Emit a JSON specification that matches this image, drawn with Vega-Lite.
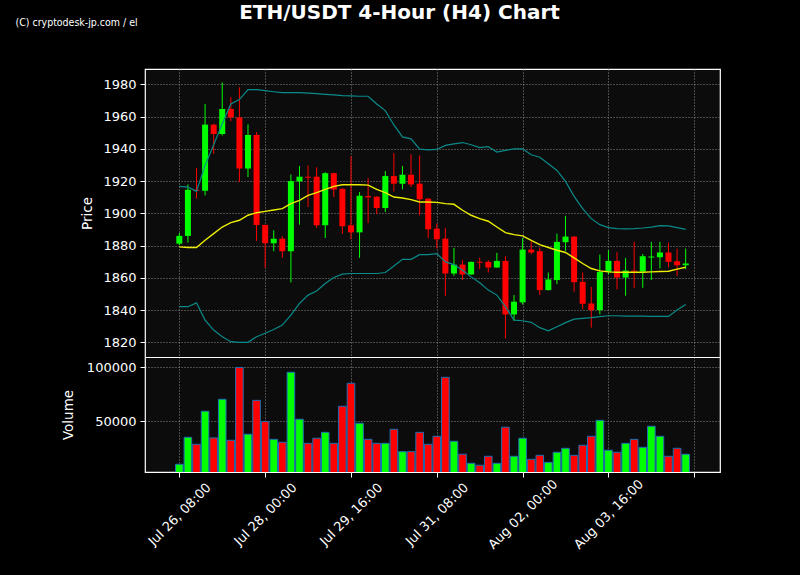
{
  "$schema": "https://vega.github.io/schema/vega-lite/v6.json",
  "width": 575,
  "height": 403,
  "autosize": {"type": "none"},
  "padding": {"left": 145, "top": 69, "right": 80, "bottom": 103},
  "background": "#000000",
  "title": {
    "text": "ETH/USDT 4-Hour (H4) Chart",
    "color": "#ffffff",
    "font": "DejaVu Sans",
    "fontSize": 20,
    "fontWeight": "bold",
    "anchor": "middle",
    "frame": "group",
    "dx": -33,
    "baseline": "alphabetic",
    "offset": -22
  },
  "config": {
    "view": {"fill": "#0c0c0c", "stroke": "#ffffff", "strokeWidth": 1.2},
    "axis": {
      "labelColor": "#ffffff", "labelFont": "DejaVu Sans", "labelFontSize": 13,
      "tickColor": "#ffffff", "tickSize": 5, "tickWidth": 1, "domain": false,
      "gridColor": "#8a8a8a", "gridDash": [1, 2], "gridWidth": 1,
      "titleColor": "#ffffff", "titleFont": "DejaVu Sans", "titleFontSize": 13.5, "titleFontWeight": "normal",
      "labelOverlap": false, "labelFlush": false, "labelBound": false
    }
  },
  "datasets": {
    "ohlc": [
      {"t":"2023-07-26T08:00:00Z","o":1881.2,"h":1887.8,"l":1880.2,"c":1886.0,"v":10200,"u":1916.7,"m":1879.2,"lo":1842.1,"dir":"up"},
      {"t":"2023-07-26T12:00:00Z","o":1886.0,"h":1917.9,"l":1881.8,"c":1914.6,"v":35200,"u":1916.3,"m":1878.8,"lo":1842.1,"dir":"up"},
      {"t":"2023-07-26T16:00:00Z","o":1914.6,"h":1928.2,"l":1909.1,"c":1914.0,"v":28700,"u":1913.6,"m":1878.8,"lo":1844.5,"dir":"down"},
      {"t":"2023-07-26T20:00:00Z","o":1914.0,"h":1967.8,"l":1911.1,"c":1955.0,"v":59300,"u":1929.7,"m":1883.3,"lo":1833.8,"dir":"up"},
      {"t":"2023-07-27T00:00:00Z","o":1955.0,"h":1955.5,"l":1936.9,"c":1949.2,"v":34600,"u":1942.5,"m":1887.4,"lo":1827.6,"dir":"down"},
      {"t":"2023-07-27T04:00:00Z","o":1949.2,"h":1981.2,"l":1948.2,"c":1964.7,"v":70400,"u":1955.5,"m":1891.5,"lo":1823.5,"dir":"up"},
      {"t":"2023-07-27T08:00:00Z","o":1964.7,"h":1971.9,"l":1957.1,"c":1959.5,"v":32400,"u":1967.8,"m":1894.2,"lo":1820.4,"dir":"down"},
      {"t":"2023-07-27T12:00:00Z","o":1959.5,"h":1978.1,"l":1919.4,"c":1927.8,"v":99800,"u":1970.5,"m":1895.7,"lo":1820.0,"dir":"down"},
      {"t":"2023-07-27T16:00:00Z","o":1927.8,"h":1955.2,"l":1922.5,"c":1948.6,"v":38000,"u":1976.7,"m":1898.8,"lo":1820.0,"dir":"up"},
      {"t":"2023-07-27T20:00:00Z","o":1948.6,"h":1950.3,"l":1882.9,"c":1892.8,"v":69400,"u":1976.7,"m":1900.4,"lo":1823.5,"dir":"down"},
      {"t":"2023-07-28T00:00:00Z","o":1892.8,"h":1893.0,"l":1866.2,"c":1881.5,"v":49700,"u":1976.1,"m":1901.2,"lo":1825.6,"dir":"down"},
      {"t":"2023-07-28T04:00:00Z","o":1881.5,"h":1889.5,"l":1876.5,"c":1884.3,"v":33300,"u":1975.4,"m":1902.1,"lo":1828.0,"dir":"up"},
      {"t":"2023-07-28T08:00:00Z","o":1884.3,"h":1885.8,"l":1872.4,"c":1876.5,"v":30600,"u":1974.8,"m":1902.9,"lo":1830.7,"dir":"down"},
      {"t":"2023-07-28T12:00:00Z","o":1876.5,"h":1924.1,"l":1857.1,"c":1920.0,"v":95400,"u":1974.8,"m":1906.0,"lo":1836.9,"dir":"up"},
      {"t":"2023-07-28T16:00:00Z","o":1919.8,"h":1929.3,"l":1893.0,"c":1922.7,"v":51900,"u":1974.8,"m":1908.0,"lo":1844.1,"dir":"up"},
      {"t":"2023-07-28T20:00:00Z","o":1922.7,"h":1929.7,"l":1903.9,"c":1922.1,"v":29600,"u":1974.6,"m":1911.1,"lo":1849.3,"dir":"down"},
      {"t":"2023-07-29T00:00:00Z","o":1922.7,"h":1928.6,"l":1891.1,"c":1892.6,"v":34300,"u":1974.2,"m":1912.8,"lo":1851.8,"dir":"down"},
      {"t":"2023-07-29T04:00:00Z","o":1892.6,"h":1925.5,"l":1884.7,"c":1924.9,"v":39800,"u":1973.8,"m":1914.8,"lo":1856.5,"dir":"up"},
      {"t":"2023-07-29T08:00:00Z","o":1924.9,"h":1925.2,"l":1910.1,"c":1914.8,"v":29600,"u":1973.4,"m":1916.7,"lo":1860.2,"dir":"down"},
      {"t":"2023-07-29T12:00:00Z","o":1915.2,"h":1915.4,"l":1887.4,"c":1892.0,"v":63900,"u":1973.0,"m":1917.7,"lo":1862.3,"dir":"down"},
      {"t":"2023-07-29T16:00:00Z","o":1892.6,"h":1935.4,"l":1883.9,"c":1888.2,"v":85200,"u":1972.8,"m":1917.7,"lo":1862.7,"dir":"down"},
      {"t":"2023-07-29T20:00:00Z","o":1888.2,"h":1913.2,"l":1872.4,"c":1910.9,"v":48200,"u":1972.6,"m":1917.7,"lo":1862.7,"dir":"up"},
      {"t":"2023-07-30T00:00:00Z","o":1910.7,"h":1921.9,"l":1894.0,"c":1909.9,"v":33300,"u":1972.6,"m":1917.5,"lo":1862.7,"dir":"down"},
      {"t":"2023-07-30T04:00:00Z","o":1910.3,"h":1910.5,"l":1899.6,"c":1903.3,"v":29600,"u":1967.8,"m":1914.8,"lo":1862.7,"dir":"down"},
      {"t":"2023-07-30T08:00:00Z","o":1903.3,"h":1926.2,"l":1900.8,"c":1923.1,"v":29600,"u":1963.7,"m":1912.8,"lo":1863.3,"dir":"up"},
      {"t":"2023-07-30T12:00:00Z","o":1923.1,"h":1937.3,"l":1913.6,"c":1918.4,"v":42600,"u":1954.8,"m":1910.1,"lo":1867.4,"dir":"down"},
      {"t":"2023-07-30T16:00:00Z","o":1918.4,"h":1929.3,"l":1914.8,"c":1923.9,"v":21900,"u":1947.4,"m":1909.5,"lo":1871.5,"dir":"up"},
      {"t":"2023-07-30T20:00:00Z","o":1923.9,"h":1936.7,"l":1916.3,"c":1917.9,"v":21900,"u":1946.2,"m":1908.5,"lo":1871.5,"dir":"down"},
      {"t":"2023-07-31T00:00:00Z","o":1918.4,"h":1935.9,"l":1898.8,"c":1908.7,"v":39800,"u":1939.8,"m":1907.0,"lo":1874.4,"dir":"down"},
      {"t":"2023-07-31T04:00:00Z","o":1909.1,"h":1909.3,"l":1884.7,"c":1890.1,"v":28700,"u":1939.4,"m":1907.0,"lo":1874.4,"dir":"down"},
      {"t":"2023-07-31T08:00:00Z","o":1890.5,"h":1893.6,"l":1878.2,"c":1883.9,"v":36100,"u":1939.6,"m":1906.8,"lo":1875.0,"dir":"down"},
      {"t":"2023-07-31T12:00:00Z","o":1884.3,"h":1891.0,"l":1848.9,"c":1862.7,"v":90700,"u":1942.1,"m":1906.0,"lo":1869.9,"dir":"down"},
      {"t":"2023-07-31T16:00:00Z","o":1862.7,"h":1878.6,"l":1861.2,"c":1868.2,"v":31500,"u":1943.1,"m":1905.6,"lo":1868.2,"dir":"up"},
      {"t":"2023-07-31T20:00:00Z","o":1868.2,"h":1870.9,"l":1858.6,"c":1862.1,"v":19500,"u":1943.9,"m":1901.9,"lo":1864.7,"dir":"down"},
      {"t":"2023-08-01T00:00:00Z","o":1862.1,"h":1870.1,"l":1861.9,"c":1869.9,"v":11100,"u":1942.5,"m":1898.8,"lo":1860.6,"dir":"up"},
      {"t":"2023-08-01T04:00:00Z","o":1870.0,"h":1872.4,"l":1865.4,"c":1869.4,"v":9300,"u":1940.8,"m":1896.7,"lo":1856.9,"dir":"down"},
      {"t":"2023-08-01T08:00:00Z","o":1869.9,"h":1870.9,"l":1863.3,"c":1866.4,"v":17600,"u":1941.4,"m":1895.1,"lo":1852.4,"dir":"down"},
      {"t":"2023-08-01T12:00:00Z","o":1866.4,"h":1875.5,"l":1866.2,"c":1870.5,"v":11100,"u":1938.0,"m":1891.5,"lo":1849.3,"dir":"up"},
      {"t":"2023-08-01T16:00:00Z","o":1870.5,"h":1873.4,"l":1822.5,"c":1837.3,"v":44500,"u":1939.0,"m":1888.0,"lo":1842.1,"dir":"down"},
      {"t":"2023-08-01T20:00:00Z","o":1837.3,"h":1849.3,"l":1833.4,"c":1845.2,"v":17600,"u":1940.0,"m":1886.8,"lo":1833.8,"dir":"up"},
      {"t":"2023-08-02T00:00:00Z","o":1844.8,"h":1884.7,"l":1843.5,"c":1877.5,"v":34300,"u":1940.0,"m":1886.0,"lo":1833.4,"dir":"up"},
      {"t":"2023-08-02T04:00:00Z","o":1877.5,"h":1882.7,"l":1874.6,"c":1875.7,"v":14800,"u":1936.3,"m":1883.3,"lo":1832.4,"dir":"down"},
      {"t":"2023-08-02T08:00:00Z","o":1876.5,"h":1878.8,"l":1849.3,"c":1852.4,"v":18500,"u":1934.8,"m":1880.6,"lo":1829.1,"dir":"down"},
      {"t":"2023-08-02T12:00:00Z","o":1852.4,"h":1863.3,"l":1852.2,"c":1859.0,"v":12000,"u":1930.7,"m":1878.8,"lo":1827.2,"dir":"up"},
      {"t":"2023-08-02T16:00:00Z","o":1858.6,"h":1887.4,"l":1856.1,"c":1882.3,"v":21300,"u":1926.6,"m":1877.1,"lo":1829.7,"dir":"up"},
      {"t":"2023-08-02T20:00:00Z","o":1882.1,"h":1898.4,"l":1876.7,"c":1885.6,"v":25000,"u":1919.8,"m":1875.7,"lo":1832.2,"dir":"up"},
      {"t":"2023-08-03T00:00:00Z","o":1885.6,"h":1885.8,"l":1851.4,"c":1857.3,"v":18500,"u":1910.5,"m":1872.4,"lo":1834.4,"dir":"down"},
      {"t":"2023-08-03T04:00:00Z","o":1857.5,"h":1863.3,"l":1840.6,"c":1843.9,"v":27800,"u":1902.9,"m":1868.9,"lo":1834.9,"dir":"down"},
      {"t":"2023-08-03T08:00:00Z","o":1844.1,"h":1854.4,"l":1829.1,"c":1840.0,"v":36100,"u":1896.7,"m":1865.8,"lo":1835.3,"dir":"down"},
      {"t":"2023-08-03T12:00:00Z","o":1840.0,"h":1874.4,"l":1837.3,"c":1863.7,"v":50900,"u":1893.0,"m":1864.3,"lo":1835.9,"dir":"up"},
      {"t":"2023-08-03T16:00:00Z","o":1863.7,"h":1877.1,"l":1862.1,"c":1870.5,"v":23200,"u":1891.1,"m":1863.7,"lo":1836.5,"dir":"up"},
      {"t":"2023-08-03T20:00:00Z","o":1870.5,"h":1876.1,"l":1852.8,"c":1860.2,"v":21300,"u":1890.5,"m":1863.5,"lo":1836.5,"dir":"down"},
      {"t":"2023-08-04T00:00:00Z","o":1860.2,"h":1872.4,"l":1848.9,"c":1864.5,"v":29600,"u":1890.3,"m":1863.5,"lo":1836.3,"dir":"up"},
      {"t":"2023-08-04T04:00:00Z","o":1864.5,"h":1882.3,"l":1853.8,"c":1863.9,"v":33300,"u":1890.5,"m":1863.5,"lo":1836.3,"dir":"down"},
      {"t":"2023-08-04T08:00:00Z","o":1863.9,"h":1874.8,"l":1853.8,"c":1873.4,"v":25900,"u":1890.9,"m":1863.5,"lo":1836.3,"dir":"up"},
      {"t":"2023-08-04T12:00:00Z","o":1872.6,"h":1882.3,"l":1858.6,"c":1873.2,"v":45400,"u":1891.5,"m":1863.7,"lo":1836.1,"dir":"up"},
      {"t":"2023-08-04T16:00:00Z","o":1872.8,"h":1882.3,"l":1865.8,"c":1875.7,"v":36100,"u":1892.4,"m":1863.9,"lo":1836.1,"dir":"up"},
      {"t":"2023-08-04T20:00:00Z","o":1875.7,"h":1881.8,"l":1866.4,"c":1869.9,"v":17600,"u":1892.2,"m":1864.1,"lo":1836.1,"dir":"down"},
      {"t":"2023-08-05T00:00:00Z","o":1870.3,"h":1878.1,"l":1861.2,"c":1867.8,"v":25000,"u":1891.1,"m":1865.4,"lo":1840.0,"dir":"down"},
      {"t":"2023-08-05T04:00:00Z","o":1867.8,"h":1878.1,"l":1865.4,"c":1868.9,"v":19500,"u":1890.1,"m":1866.6,"lo":1843.5,"dir":"up"}
    ]
  },
  "data": {"name": "ohlc"},
  "layer": [
    {
      "mark": {"type": "rule", "strokeWidth": 1},
      "encoding": {
        "x": {
          "field": "t", "type": "temporal",
          "scale": {"type": "utc", "domain": [1690300800000, 1691265600000], "padding": 0},
          "axis": {
            "orient": "bottom", "offset": -115,
            "domain": true, "domainColor": "#ffffff", "domainWidth": 1.2,
            "labels": false, "ticks": false, "grid": false,
            "title": "(C) cryptodesk-jp.com / el",
            "titleX": -130, "titleY": -332, "titleAlign": "left", "titleAngle": 0,
            "titleBaseline": "alphabetic", "titleFont": "DejaVu Sans Condensed",
            "titleFontSize": 10.5, "titleFontWeight": "normal", "titleColor": "#ffffff"
          }
        },
        "y": {
          "field": "l", "type": "quantitative",
          "scale": {"domain": [1739.6, 1989.5], "zero": false, "nice": false},
          "axis": {
            "orient": "left", "values": [1820, 1840, 1860, 1880, 1900, 1920, 1940, 1960, 1980],
            "format": "d",
            "grid": true, "labelPadding": 4, "title": "Price",
            "titleX": -58, "titleY": 144, "titleBaseline": "middle", "titleAlign": "center"
          }
        },
        "y2": {"field": "h"},
        "color": {
          "field": "dir", "type": "nominal",
          "scale": {"domain": ["up", "down"], "range": ["#00ff00", "#ff0000"]},
          "legend": null
        }
      }
    },
    {
      "mark": {"type": "bar", "size": 6},
      "encoding": {
        "x": {"field": "t", "type": "temporal", "scale": {"type": "utc", "domain": [1690300800000, 1691265600000], "padding": 0}, "axis": null},
        "y": {"field": "o", "type": "quantitative", "scale": {"domain": [1739.6, 1989.5], "zero": false, "nice": false}, "axis": null},
        "y2": {"field": "c"},
        "color": {
          "field": "dir", "type": "nominal",
          "scale": {"domain": ["up", "down"], "range": ["#00ff00", "#ff0000"]},
          "legend": null
        }
      }
    },
    {
      "mark": {"type": "line", "color": "#0a8a8a", "strokeWidth": 1.2},
      "encoding": {
        "x": {"field": "t", "type": "temporal", "scale": {"type": "utc", "domain": [1690300800000, 1691265600000], "padding": 0}, "axis": null},
        "y": {"field": "u", "type": "quantitative", "scale": {"domain": [1739.6, 1989.5], "zero": false, "nice": false}, "axis": null}
      }
    },
    {
      "mark": {"type": "line", "color": "#0a8a8a", "strokeWidth": 1.2},
      "encoding": {
        "x": {"field": "t", "type": "temporal", "scale": {"type": "utc", "domain": [1690300800000, 1691265600000], "padding": 0}, "axis": null},
        "y": {"field": "lo", "type": "quantitative", "scale": {"domain": [1739.6, 1989.5], "zero": false, "nice": false}, "axis": null}
      }
    },
    {
      "mark": {"type": "line", "color": "#eeee00", "strokeWidth": 1.4},
      "encoding": {
        "x": {"field": "t", "type": "temporal", "scale": {"type": "utc", "domain": [1690300800000, 1691265600000], "padding": 0}, "axis": null},
        "y": {"field": "m", "type": "quantitative", "scale": {"domain": [1739.6, 1989.5], "zero": false, "nice": false}, "axis": null}
      }
    },
    {
      "mark": {"type": "bar", "size": 7.6, "stroke": "#1f6fb4", "strokeWidth": 1, "clip": true},
      "encoding": {
        "x": {
          "field": "t", "type": "temporal",
          "scale": {"type": "utc", "domain": [1690300800000, 1691265600000], "padding": 0},
          "axis": {
            "orient": "bottom",
            "values": [1690358400000, 1690502400000, 1690646400000, 1690790400000, 1690934400000, 1691078400000, 1691222400000],
            "format": "%b %d, %H:%M",
            "labelExpr": "datum.value >= 1691222400000 ? '' : datum.label",
            "labelAngle": 315, "labelAlign": "center", "labelBaseline": "middle", "labelPadding": 37,
            "grid": true, "title": null
          }
        },
        "y": {
          "field": "v", "type": "quantitative",
          "scale": {"domain": [3056, 376204], "zero": false, "nice": false},
          "axis": {
            "orient": "left", "values": [50000, 100000], "format": "d",
            "grid": true, "labelPadding": 4, "title": "Volume",
            "titleX": -77, "titleY": 345.5, "titleBaseline": "middle", "titleAlign": "center"
          }
        },
        "color": {
          "field": "dir", "type": "nominal",
          "scale": {"domain": ["up", "down"], "range": ["#00ff00", "#ff0000"]},
          "legend": null
        }
      }
    }
  ],
  "resolve": {
    "scale": {"x": "independent", "y": "independent"},
    "axis": {"x": "independent", "y": "independent"}
  }
}
